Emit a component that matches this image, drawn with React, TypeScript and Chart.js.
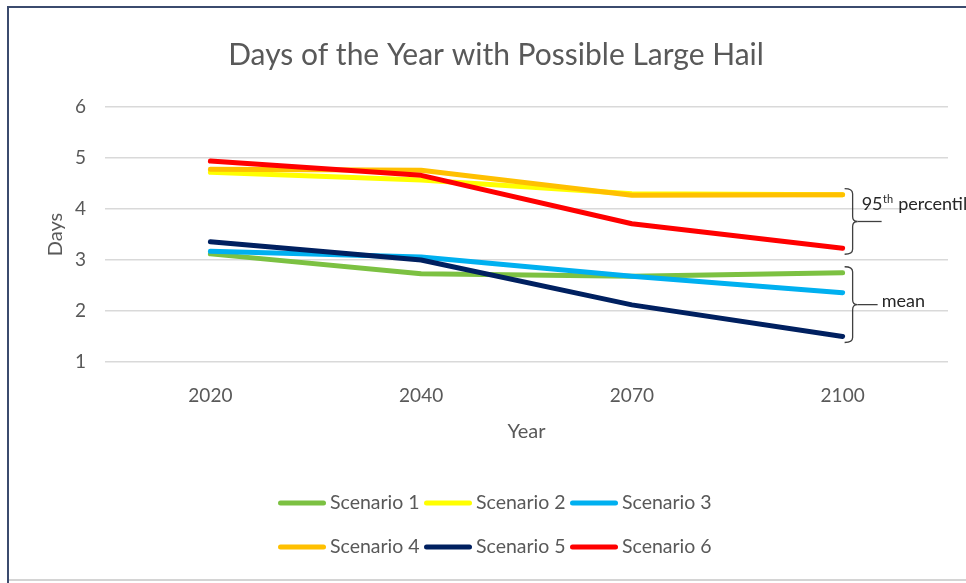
import React, { useEffect, useRef } from "react";
import { Chart, registerables } from "chart.js";

Chart.register(...registerables);

// ---- data ----
const years = ["2020", "2040", "2070", "2100"];
const scenario1 = [3.12, 2.73, 2.68, 2.75];
const scenario2 = [4.72, 4.57, 4.3, 4.28];
const scenario3 = [3.17, 3.06, 2.68, 2.36];
const scenario4 = [4.78, 4.76, 4.27, 4.28];
const scenario5 = [3.36, 3.0, 2.12, 1.5];
const scenario6 = [4.94, 4.66, 3.71, 3.23];

const seriesNames = ["Scenario 1", "Scenario 2", "Scenario 3", "Scenario 4", "Scenario 5", "Scenario 6"];
const seriesValues = [scenario1, scenario2, scenario3, scenario4, scenario5, scenario6];
const seriesColors = ["#7cc142", "#ffff00", "#00b0f0", "#ffc000", "#002060", "#ff0000"];

const yMin = 1;
const yMax = 6;
const yStep = 1;

// bracketed groups at the final year (dataset indexes)
const percentileGroup = [1, 3, 5];
const meanGroup = [0, 2, 4];

const FONT = "Lato, 'Open Sans', sans-serif";
const TEXT_GREY = "#595959";

const W = 966;
const H = 583;

// white sheet with its frame
const framePlugin = {
  id: "frame",
  beforeDraw(chart: any) {
    const ctx = chart.ctx;
    ctx.save();
    ctx.fillStyle = "#ffffff";
    ctx.fillRect(0, 0, chart.width, chart.height);
    ctx.strokeStyle = "#d4d4d4";
    ctx.lineWidth = 2;
    ctx.beginPath();
    ctx.moveTo(9, 580);
    ctx.lineTo(chart.width, 580);
    ctx.stroke();
    ctx.strokeStyle = "#3b4b6e";
    ctx.lineWidth = 2;
    ctx.beginPath();
    ctx.moveTo(8, chart.height);
    ctx.lineTo(8, 7);
    ctx.lineTo(chart.width, 7);
    ctx.stroke();
    ctx.restore();
  },
};

function drawBrace(ctx: CanvasRenderingContext2D, xv: number, top: number, bottom: number) {
  const hook = 8;
  const tip = 5;
  const r = 5;
  const mid = (top + bottom) / 2;
  ctx.beginPath();
  ctx.moveTo(xv - hook, top);
  ctx.quadraticCurveTo(xv, top, xv, top + r);
  ctx.lineTo(xv, mid - r);
  ctx.quadraticCurveTo(xv, mid, xv + tip, mid);
  ctx.moveTo(xv + tip, mid);
  ctx.quadraticCurveTo(xv, mid, xv, mid + r);
  ctx.lineTo(xv, bottom - r);
  ctx.quadraticCurveTo(xv, bottom, xv - hook, bottom);
  ctx.stroke();
  return mid;
}

// curly brackets that label the two groups of scenarios at the last year
const bracePlugin = {
  id: "braces",
  afterDatasetsDraw(chart: any) {
    const ctx = chart.ctx as CanvasRenderingContext2D;
    const xs = chart.scales.x;
    const ys = chart.scales.y;
    const last = years.length - 1;
    const xv = xs.getPixelForValue(last) + 10;

    const span = (group: number[]) => {
      const vals = group.map((i) => seriesValues[i][last]);
      return {
        top: ys.getPixelForValue(Math.max(...vals)) - 6,
        bottom: ys.getPixelForValue(Math.min(...vals)) + 6,
      };
    };

    ctx.save();
    ctx.strokeStyle = "#404040";
    ctx.lineWidth = 1.3;
    ctx.fillStyle = "#262626";
    ctx.textBaseline = "alphabetic";
    ctx.textAlign = "left";

    const p = span(percentileGroup);
    const pMid = drawBrace(ctx, xv, p.top, p.bottom);
    ctx.beginPath();
    ctx.moveTo(xv + 5, pMid);
    ctx.lineTo(xv + 29, pMid);
    ctx.stroke();
    let tx = xv + 9;
    const base = pMid - 11;
    ctx.font = `18px ${FONT}`;
    ctx.fillText("95", tx, base);
    tx += ctx.measureText("95").width;
    ctx.font = `11px ${FONT}`;
    ctx.fillText("th", tx + 0.5, base - 7);
    tx += ctx.measureText("th").width + 1;
    ctx.font = `18px ${FONT}`;
    ctx.fillText(" percentile", tx, base);

    const m = span(meanGroup);
    const mMid = drawBrace(ctx, xv, m.top, m.bottom);
    ctx.beginPath();
    ctx.moveTo(xv + 5, mMid);
    ctx.lineTo(xv + 25, mMid);
    ctx.stroke();
    ctx.textBaseline = "middle";
    ctx.fillText("mean", xv + 29, mMid - 3);
    ctx.restore();
  },
};

// two-row legend, three entries per row
const legendPlugin = {
  id: "rowLegend",
  afterDraw(chart: any) {
    const ctx = chart.ctx as CanvasRenderingContext2D;
    const perRow = 3;
    const colW = 146;
    const boxW = 48;
    const cx = 495;
    const rowsY = [503, 547];
    const startX = cx - (perRow * colW) / 2 + 2;
    ctx.save();
    ctx.font = `19.5px ${FONT}`;
    ctx.textBaseline = "middle";
    ctx.textAlign = "left";
    chart.data.datasets.forEach((ds: any, i: number) => {
      const row = Math.floor(i / perRow);
      const col = i % perRow;
      const x = startX + col * colW;
      const y = rowsY[row];
      ctx.strokeStyle = ds.borderColor;
      ctx.lineWidth = 5;
      ctx.lineCap = "round";
      ctx.beginPath();
      ctx.moveTo(x + 2.5, y);
      ctx.lineTo(x + boxW - 2.5, y);
      ctx.stroke();
      ctx.fillStyle = TEXT_GREY;
      ctx.fillText(ds.label, x + boxW + 4, y);
    });
    ctx.restore();
  },
};

export default function App() {
  const canvasRef = useRef<HTMLCanvasElement | null>(null);

  useEffect(() => {
    if (!canvasRef.current) return;
    const chart = new Chart(canvasRef.current, {
      type: "line",
      data: {
        labels: years,
        datasets: seriesNames.map((name, i) => ({
          label: name,
          data: seriesValues[i],
          borderColor: seriesColors[i],
          backgroundColor: seriesColors[i],
          borderWidth: 5,
          borderCapStyle: "round" as const,
          borderJoinStyle: "round" as const,
          pointRadius: 0,
          pointHoverRadius: 0,
          tension: 0,
          fill: false,
          order: seriesNames.length - 1 - i,
        })),
      },
      options: {
        responsive: false,
        animation: false,
        devicePixelRatio: 1,
        events: [],
        layout: { padding: { left: 44, right: 18, top: 8, bottom: 139 } },
        plugins: {
          legend: { display: false },
          tooltip: { enabled: false },
          title: {
            display: true,
            text: "Days of the Year with Possible Large Hail",
            color: TEXT_GREY,
            font: { family: FONT, size: 30, weight: "normal" },
            padding: { top: 29, bottom: 34 },
          },
        },
        scales: {
          x: {
            type: "category",
            offset: true,
            grid: { display: false, drawTicks: false },
            border: { display: false },
            ticks: { color: TEXT_GREY, font: { family: FONT, size: 19 }, padding: 22 },
            title: {
              display: true,
              text: "Year",
              color: TEXT_GREY,
              font: { family: FONT, size: 20 },
              padding: 0,
            },
            afterFit(scale: any) {
              scale.height = 82;
            },
          },
          y: {
            min: yMin,
            max: yMax,
            grid: { color: "#d9d9d9", lineWidth: 1.5, drawTicks: false },
            border: { display: false },
            ticks: {
              stepSize: yStep,
              color: TEXT_GREY,
              font: { family: FONT, size: 19 },
              padding: 19,
            },
            title: {
              display: true,
              text: "Days",
              color: TEXT_GREY,
              font: { family: FONT, size: 20 },
              padding: 0,
            },
            afterFit(scale: any) {
              scale.width = 61;
            },
          },
        },
      },
      plugins: [framePlugin, bracePlugin, legendPlugin],
    });
    return () => chart.destroy();
  }, []);

  return (
    <div
      style={{
        position: "fixed",
        left: 0,
        top: 0,
        width: W,
        height: H,
        overflow: "hidden",
        background: "#ffffff",
      }}
    >
      <canvas ref={canvasRef} width={W} height={H} style={{ display: "block", width: W, height: H }} />
    </div>
  );
}
